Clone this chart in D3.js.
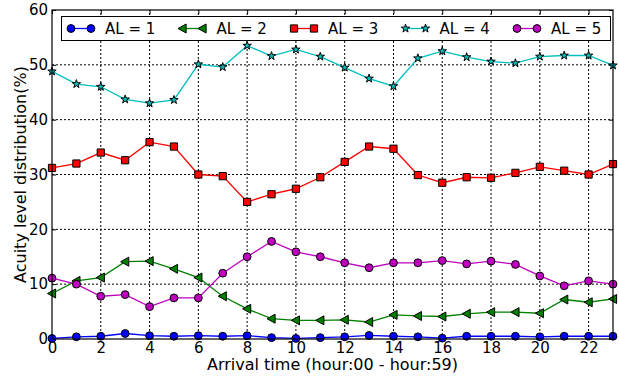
<!DOCTYPE html>
<html>
<head>
<meta charset="utf-8">
<script src="https://cdn.jsdelivr.net/npm/d3@7/dist/d3.min.js"></script>
<style>
  html, body { margin: 0; padding: 0; background: #fff; }
  text { font-family: "DejaVu Sans", sans-serif; }
</style>
</head>
<body>
<svg id="chart" width="619" height="378"></svg>
<script>
// Hour of arrival (0..23)
const hours = d3.range(0, 24);

// Acuity level distribution (%) per arrival hour
const al1 = [0.1, 0.4, 0.5, 1.0, 0.6, 0.5, 0.6, 0.5, 0.6, 0.25, 0.1, 0.25,
             0.4, 0.65, 0.5, 0.4, 0.15, 0.5, 0.5, 0.5, 0.4, 0.5, 0.5, 0.5];
const al2 = [8.3, 10.6, 11.2, 14.1, 14.2, 12.8, 11.2, 7.8, 5.5, 3.7, 3.4, 3.4,
             3.5, 3.1, 4.4, 4.2, 4.1, 4.6, 4.9, 4.9, 4.7, 7.2, 6.7, 7.3];
const al3 = [31.2, 32.0, 34.0, 32.6, 35.9, 35.1, 30.0, 29.7, 25.0, 26.4, 27.4, 29.5,
             32.3, 35.1, 34.7, 29.9, 28.5, 29.5, 29.4, 30.3, 31.4, 30.7, 30.0, 31.9];
const al4 = [48.8, 46.5, 46.0, 43.7, 43.0, 43.6, 50.1, 49.6, 53.5, 51.6, 52.8, 51.5,
             49.5, 47.5, 46.1, 51.2, 52.5, 51.4, 50.6, 50.3, 51.5, 51.7, 51.7, 49.9];
const al5 = [11.1, 10.0, 7.8, 8.1, 5.9, 7.5, 7.5, 12.0, 15.0, 17.8, 15.9, 15.0,
             13.9, 13.0, 13.9, 13.9, 14.3, 13.7, 14.2, 13.6, 11.5, 9.7, 10.6, 10.0];

const seriesNames = ["AL = 1", "AL = 2", "AL = 3", "AL = 4", "AL = 5"];
const seriesValues = [al1, al2, al3, al4, al5];
const seriesColors = ["#0000ff", "#008000", "#ff0000", "#00bfbf", "#bf00bf"];
const seriesMarkers = ["circle", "triangleLeft", "square", "star", "circle"];

const xTicks = d3.range(0, 23, 2);
const yTicks = [0, 10, 20, 30, 40, 50, 60];

const margin = { left: 52, right: 6, top: 10, bottom: 39 };
const W = 619, H = 378;
const svg = d3.select("#chart");

const x = d3.scaleLinear().domain([0, 23]).range([margin.left, W - margin.right]);
const y = d3.scaleLinear().domain([0, 60]).range([H - margin.bottom, margin.top]);

const x0 = x.range()[0], x1 = x.range()[1];
const y0 = y.range()[0], y1 = y.range()[1];

// dotted grid
const grid = svg.append("g");
grid.selectAll("line.gx").data(xTicks.filter(t => t > 0)).join("line")
  .attr("x1", d => x(d)).attr("x2", d => x(d))
  .attr("y1", y0).attr("y2", y1)
  .attr("stroke", "#000").attr("stroke-width", 1).attr("stroke-dasharray", "2,2");
grid.selectAll("line.gy").data(yTicks.filter(t => t > 0 && t < 60)).join("line")
  .attr("x1", x0).attr("x2", x1)
  .attr("y1", d => y(d)).attr("y2", d => y(d))
  .attr("stroke", "#000").attr("stroke-width", 1).attr("stroke-dasharray", "2,2");

// axes with inward ticks on all four sides
const tickLen = 4;
const axB = d3.axisBottom(x).tickValues(xTicks).tickSize(-tickLen).tickPadding(3);
const axL = d3.axisLeft(y).tickValues(yTicks).tickSize(-tickLen).tickPadding(4);
const axT = d3.axisTop(x).tickValues(xTicks).tickSize(-tickLen).tickFormat("");
const axR = d3.axisRight(y).tickValues(yTicks).tickSize(-tickLen).tickFormat("");

function styleAxis(g) {
  g.select(".domain").remove();
  g.selectAll(".tick line").attr("stroke", "#000");
  g.selectAll(".tick text").attr("fill", "#000").style("font-size", "15px")
    .style("font-family", "DejaVu Sans, sans-serif");
}
svg.append("g").attr("transform", `translate(0,${y0})`).call(axB).call(styleAxis);
svg.append("g").attr("transform", `translate(${x0},0)`).call(axL).call(styleAxis);
svg.append("g").attr("transform", `translate(0,${y1})`).call(axT).call(styleAxis);
svg.append("g").attr("transform", `translate(${x1},0)`).call(axR).call(styleAxis);

// marker shapes
function markerPath(kind) {
  switch (kind) {
    case "circle": return d3.symbol(d3.symbolCircle, 48)();
    case "square": return d3.symbol(d3.symbolSquare, 52)();
    case "star": return d3.symbol(d3.symbolStar, 22)();
    case "triangleLeft": {
      const r = 4.5;
      return `M${-r},0L${r * 0.8},${-r}L${r * 0.8},${r}Z`;
    }
  }
}

const plot = svg.append("g");
const line = d3.line().x((d, i) => x(hours[i])).y(d => y(d));

seriesValues.forEach((vals, si) => {
  const g = plot.append("g");
  g.append("path").datum(vals)
    .attr("d", line)
    .attr("fill", "none")
    .attr("stroke", seriesColors[si])
    .attr("stroke-width", 1.3);
  g.selectAll("path.m").data(vals).join("path")
    .attr("class", "m")
    .attr("transform", (d, i) => `translate(${x(hours[i])},${y(d)})`)
    .attr("d", markerPath(seriesMarkers[si]))
    .attr("fill", seriesColors[si])
    .attr("stroke", "#000")
    .attr("stroke-width", 1);
});

// frame
svg.append("rect").attr("x", x0).attr("y", y1)
  .attr("width", x1 - x0).attr("height", y0 - y1)
  .attr("fill", "none").attr("stroke", "#000").attr("stroke-width", 1.2);

// legend
const lg = svg.append("g");
lg.append("rect").attr("x", 61.5).attr("y", 16.5).attr("width", 549).attr("height", 24)
  .attr("fill", "#fff").attr("stroke", "#000").attr("stroke-width", 1);
seriesNames.forEach((name, si) => {
  const lx = 71 + si * 111.5, ly = 28.5;
  lg.append("line").attr("x1", lx).attr("x2", lx + 20).attr("y1", ly).attr("y2", ly)
    .attr("stroke", seriesColors[si]).attr("stroke-width", 1.3);
  [lx, lx + 20].forEach(mx => {
    lg.append("path").attr("transform", `translate(${mx},${ly})`)
      .attr("d", markerPath(seriesMarkers[si]))
      .attr("fill", seriesColors[si]).attr("stroke", "#000").attr("stroke-width", 1);
  });
  lg.append("text").attr("x", lx + 34).attr("y", ly + 5.5)
    .style("font-size", "15px").attr("fill", "#000").text(name);
});

// axis titles
svg.append("text").attr("x", (x0 + x1) / 2).attr("y", 370)
  .attr("text-anchor", "middle").style("font-size", "16px").text("Arrival time (hour:00 - hour:59)");
svg.append("text")
  .attr("transform", `translate(26,${(y0 + y1) / 2}) rotate(-90)`)
  .attr("text-anchor", "middle").style("font-size", "16px").text("Acuity level distribution(%)");
</script>
</body>
</html>
